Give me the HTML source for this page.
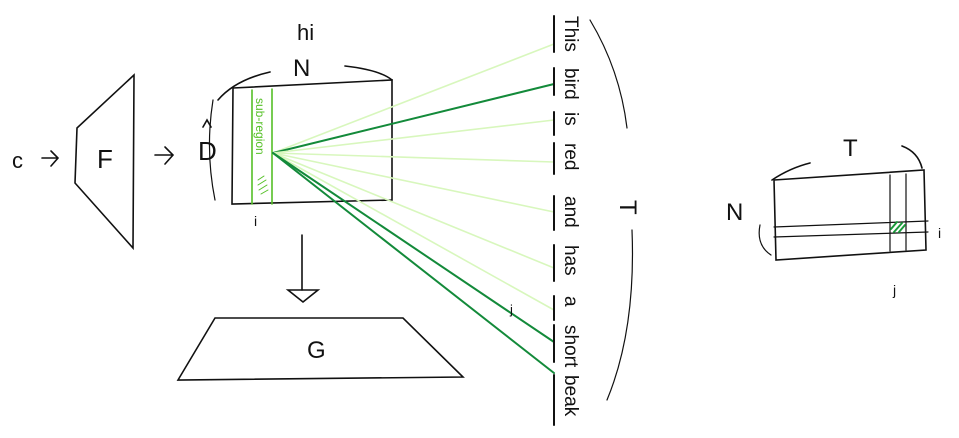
<!DOCTYPE html>
<html><head><meta charset="utf-8"><style>
html,body{margin:0;padding:0;background:#fff;}
svg{display:block;}
text{font-family:"Liberation Sans",sans-serif;fill:#111;}
</style></head><body>
<svg id="c" width="959" height="438" viewBox="0 0 959 438" fill="none" stroke="#111" stroke-width="1.6" stroke-linecap="round">
  <text x="12" y="168" font-size="22" stroke="none">c</text>
  <path d="M42 158 L58 158 M51 151 L58 158 L51 166"/>
  <path d="M77 128 L134 75 L133 248 L75 183 Z"/>
  <text x="97" y="168" font-size="26" stroke="none">F</text>
  <path d="M155 155 L173 155 M165 147 L173 155 L165 164"/>
  <text x="198" y="160" font-size="26" stroke="none">D</text>
  <path d="M203 127 L207 120 L211 127"/>

  <path d="M218 100 Q235 80 270 72 M345 66 Q380 70 392 80"/>
  <path d="M213 100 Q205 150 215 200" stroke-width="1.2"/>
  <text x="293" y="76" font-size="24" stroke="none">N</text>
  <text x="297" y="40" font-size="22" stroke="none">hi</text>
  <path d="M233 88 L392 80 L392 200 L232 204 Z"/>
  <path d="M252 90 L252 204 M272 89 L272 204" stroke="#55c027"/>
  <text transform="translate(256,98) rotate(90)" font-size="12" stroke="none" style="fill:#55c027">sub-region</text>
  <path d="M258 180 L264 176 M258 185 L266 180 M259 190 L267 185 M261 194 L268 190" stroke="#55c027" stroke-width="1"/>
  <text x="254" y="226" font-size="14" stroke="none">i</text>

  <g id="fan"></g>
  <g id="words"></g>

  <path d="M590 20 Q620 70 627 128" stroke-width="1.2"/>
  <path d="M632 230 Q636 330 607 400" stroke-width="1.2"/>
  <text transform="translate(620,200) rotate(90)" font-size="24" stroke="none">T</text>
  <text x="510" y="314" font-size="13" stroke="none">j</text>

  <path d="M302 235 L302 290"/>
  <path d="M288 290 L318 290 L303 302 Z"/>
  <path d="M215 318 L403 318 L463 377 L178 380 Z"/>
  <text x="307" y="358" font-size="24" stroke="none">G</text>

  <path d="M772 180 Q790 168 810 163 M902 146 Q918 152 922 168"/>
  <path d="M760 225 Q756 245 771 255" stroke-width="1.2"/>
  <text x="843" y="156" font-size="24" stroke="none">T</text>
  <text x="726" y="220" font-size="24" stroke="none">N</text>
  <path d="M774 180 L924 170 L926 250 L776 260 Z"/>
  <path d="M774 227 L928 221 M774 237 L928 232" stroke-width="1.2"/>
  <path d="M890 175 L890 251 M906 174 L906 250" stroke-width="1.2"/>
  <path d="M891 229 L897 222 M894 232 L902 223 M899 232 L905 225" stroke="#1a9a3a" stroke-width="2"/>
  <text x="938" y="238" font-size="14" stroke="none">i</text>
  <text x="893" y="295" font-size="14" stroke="none">j</text>
</svg>
<script>
const words = ["This","bird","is","red","and","has","a","short","beak"];
const wordStart = [16,68,112,143,196,245,296,325,375];
const wordEnd = [52,95,135,174,230,281,320,362,425];
const lineTargetY = [44,84,120,162,212,268,310,342,373];
const strong = [0,1,0,0,0,0,0,1,1];
const NS="http://www.w3.org/2000/svg";
const fan=document.getElementById('fan'), wg=document.getElementById('words');
const ox=273, oy=153, bx=554;
words.forEach((w,k)=>{
  const ln=document.createElementNS(NS,'line');
  ln.setAttribute('x1',ox);ln.setAttribute('y1',oy);
  ln.setAttribute('x2',bx);ln.setAttribute('y2',lineTargetY[k]);
  ln.setAttribute('stroke',strong[k]?'#138a3a':'#d8f7bd');
  ln.setAttribute('stroke-width',strong[k]?'2':'1.6');
  
  
  fan.appendChild(ln);
  const b=document.createElementNS(NS,'line');
  b.setAttribute('x1',bx);b.setAttribute('x2',bx);
  b.setAttribute('y1',wordStart[k]);b.setAttribute('y2',wordEnd[k]);
  b.setAttribute('stroke','#111');b.setAttribute('stroke-width','2');
  
  
  wg.appendChild(b);
  const t=document.createElementNS(NS,'text');
  t.setAttribute('transform','translate(565,'+wordStart[k]+') rotate(90)');
  t.setAttribute('font-size','19');
  t.setAttribute('stroke','none');
  t.textContent=w;
  
  
  wg.appendChild(t);
});
</script>
</body></html>
